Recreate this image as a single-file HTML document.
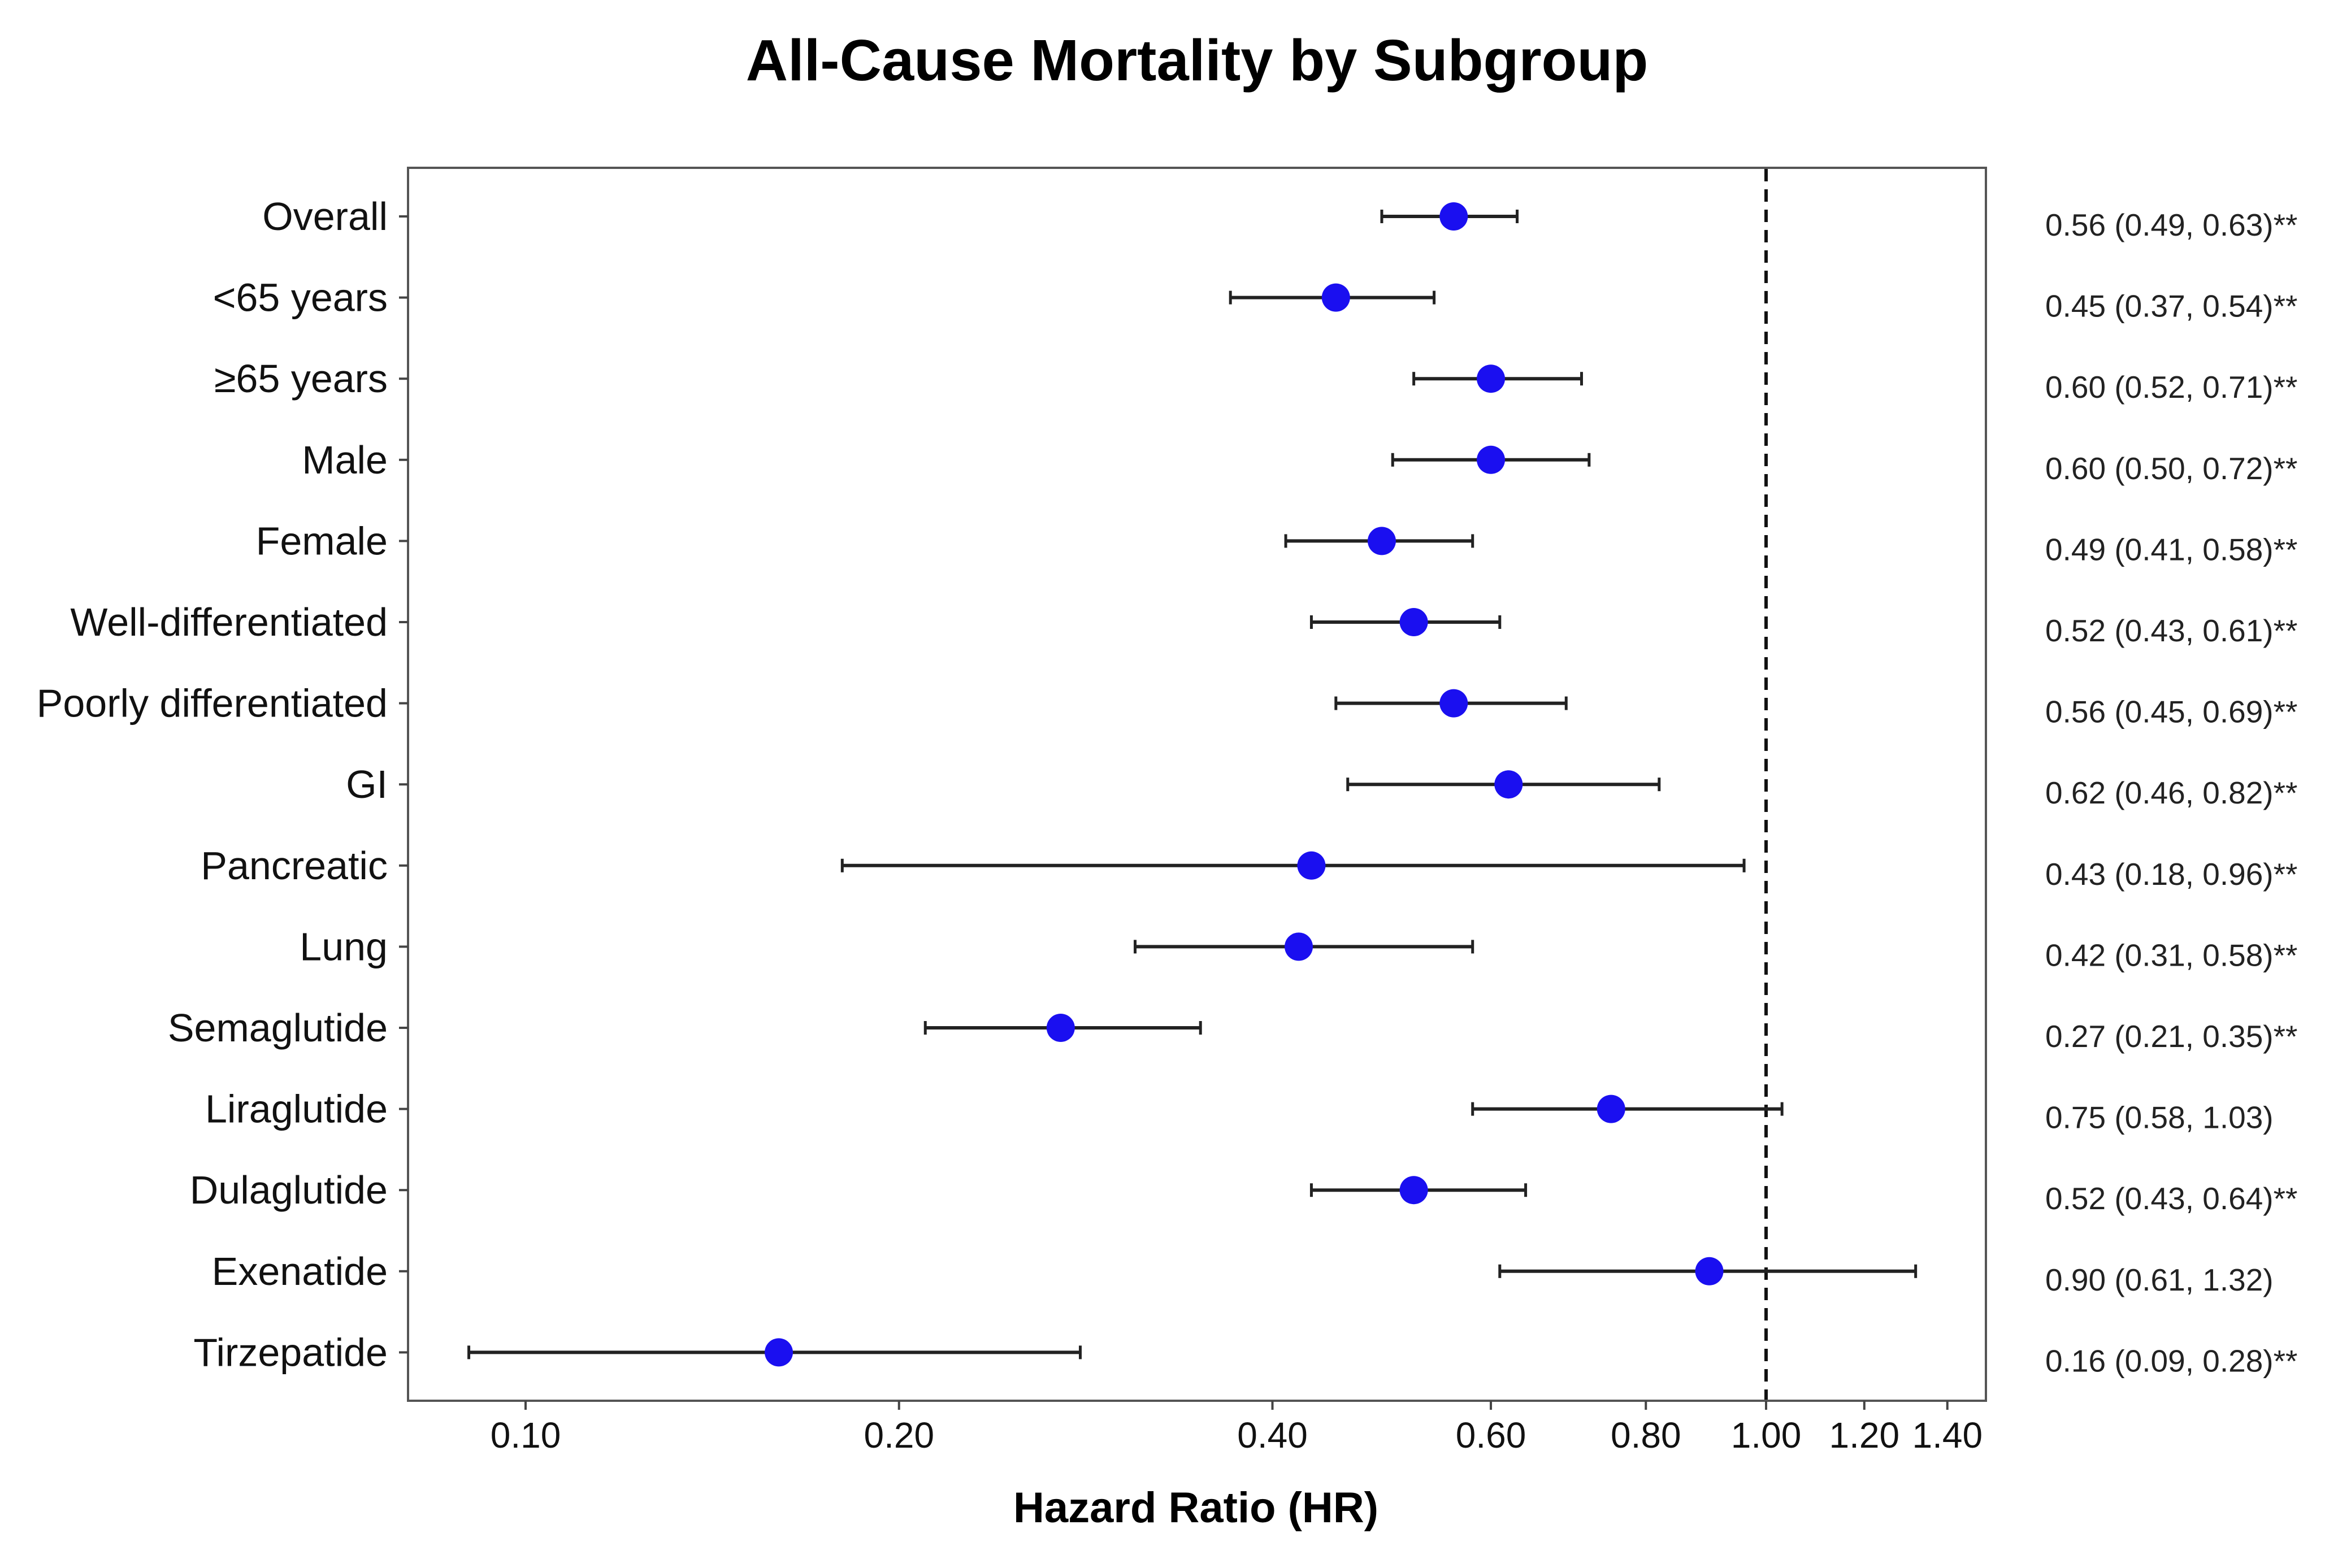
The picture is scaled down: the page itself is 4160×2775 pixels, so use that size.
<!DOCTYPE html>
<html><head><meta charset="utf-8"><style>
html,body{margin:0;padding:0;background:#fff;}
svg{display:block;font-family:"Liberation Sans",Arial,sans-serif;}
</style></head><body>
<svg id="chart" width="4160" height="2775" viewBox="0 0 4160 2775" xmlns="http://www.w3.org/2000/svg">
<text x="2118" y="142" font-size="103" font-weight="bold" text-anchor="middle">All-Cause Mortality by Subgroup</text>
<rect x="722" y="297" width="2792" height="2182" fill="none" stroke="#555" stroke-width="4"/>
<g id="g"></g>
<text x="2116" y="2694" font-size="76" font-weight="bold" text-anchor="middle">Hazard Ratio (HR)</text>
</svg>
<script>
const categories=["Overall","<65 years","≥65 years","Male","Female","Well-differentiated","Poorly differentiated","GI","Pancreatic","Lung","Semaglutide","Liraglutide","Dulaglutide","Exenatide","Tirzepatide"];
const hr=[0.56,0.45,0.60,0.60,0.49,0.52,0.56,0.62,0.43,0.42,0.27,0.75,0.52,0.90,0.16];
const lower=[0.49,0.37,0.52,0.50,0.41,0.43,0.45,0.46,0.18,0.31,0.21,0.58,0.43,0.61,0.09];
const upper=[0.63,0.54,0.71,0.72,0.58,0.61,0.69,0.82,0.96,0.58,0.35,1.03,0.64,1.32,0.28];
const sig=[true,true,true,true,true,true,true,true,true,true,true,false,true,false,true];
const ticks=[0.10,0.20,0.40,0.60,0.80,1.00,1.20,1.40];
const refLine=1.0;
const NS="http://www.w3.org/2000/svg";
const g=document.getElementById('g');
const x=v=>930+2195*Math.log10(v/0.1);
const y=i=>383+i*143.6;
function mk(t,a,parent){const e=document.createElementNS(NS,t);for(const k in a)e.setAttribute(k,a[k]);(parent||g).appendChild(e);return e;}
let rl=mk('line',{x1:x(refLine),x2:x(refLine),y1:299,y2:2477,stroke:'#111','stroke-width':6,'stroke-dasharray':'22 14'});


ticks.forEach(t=>{
 let l=mk('line',{x1:x(t),x2:x(t),y1:2479,y2:2495,stroke:'#444','stroke-width':4});
 
 
 let tx=mk('text',{x:x(t),y:2562,'font-size':64,'text-anchor':'middle',fill:'#111'});
 tx.textContent=t.toFixed(2);
 
 
});
categories.forEach((c,i)=>{
 const yy=y(i);
 let lab=mk('text',{x:686,y:yy+24,'font-size':70,'text-anchor':'end',fill:'#111'});
 lab.textContent=c;
 
 
 let tk=mk('line',{x1:706,x2:722,y1:yy,y2:yy,stroke:'#444','stroke-width':4});
 
 
 let ci=mk('line',{x1:x(lower[i]),x2:x(upper[i]),y1:yy,y2:yy,stroke:'#222','stroke-width':6});
 
 
 [lower[i],upper[i]].forEach(v=>{
  let cap=mk('line',{x1:x(v),x2:x(v),y1:yy-12,y2:yy+12,stroke:'#222','stroke-width':5});
  
  
 });
 let pt=mk('circle',{cx:x(hr[i]),cy:yy,r:25,fill:'#1a0ff0'});
 
 
 let rt=mk('text',{x:3619,y:yy+34,'font-size':55,fill:'#222'});
 rt.textContent=hr[i].toFixed(2)+' ('+lower[i].toFixed(2)+', '+upper[i].toFixed(2)+')'+(sig[i]?'**':'');
 
 
});
</script>
</body></html>
